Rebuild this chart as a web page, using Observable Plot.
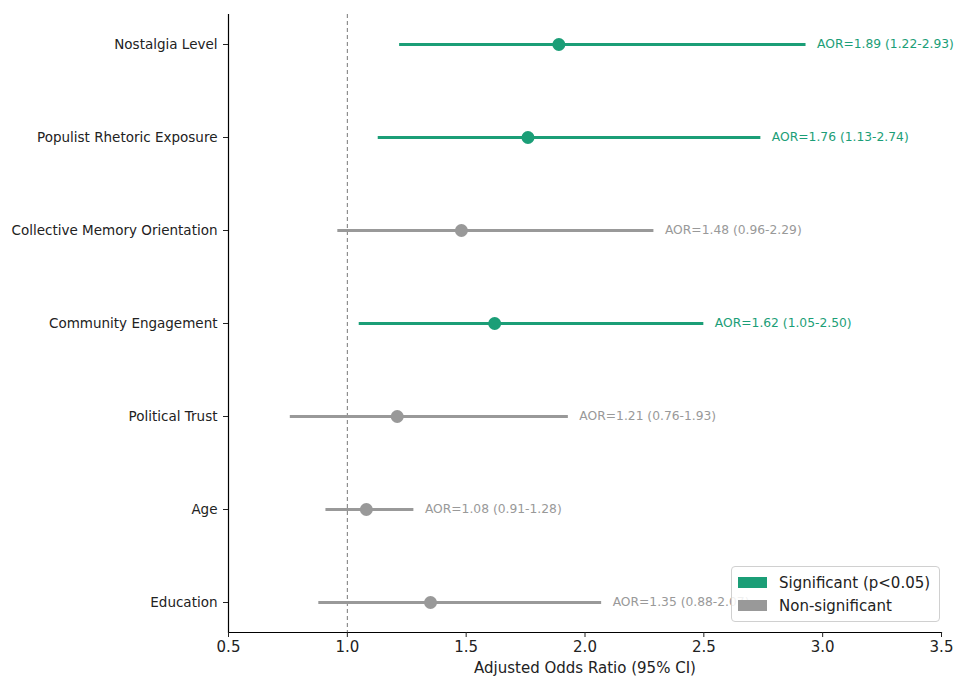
<!DOCTYPE html>
<html><head><meta charset="utf-8">
<script src="https://cdn.jsdelivr.net/npm/d3@7"></script>
<script src="https://cdn.jsdelivr.net/npm/@observablehq/plot@0.6"></script>
<style>
body{margin:0;background:#fff;font-family:"DejaVu Sans",sans-serif;}
#wrap{position:relative;width:954px;height:682px;}
#legend{position:absolute;left:731px;top:566px;width:209px;height:56px;border:1px solid #d0d0d0;border-radius:4px;background:rgba(255,255,255,0.85);font-size:15px;color:#222;box-sizing:border-box;padding:4px 0 0 6px;}
.li{display:flex;align-items:center;height:23px;}
.sw{width:29px;height:11px;margin-right:12px;}
</style></head>
<body><div id="wrap"><div id="chart"></div>
<div id="legend"><div class="li"><span class="sw" style="background:#1b9e77"></span>Significant (p&lt;0.05)</div><div class="li"><span class="sw" style="background:#999999"></span>Non-significant</div></div></div>
<script>
const variables = ["Nostalgia Level","Populist Rhetoric Exposure","Collective Memory Orientation","Community Engagement","Political Trust","Age","Education"];
const aor = [1.89,1.76,1.48,1.62,1.21,1.08,1.35];
const lower = [1.22,1.13,0.96,1.05,0.76,0.91,0.88];
const upper = [2.93,2.74,2.29,2.50,1.93,1.28,2.07];
const significant = [true,true,false,true,false,false,false];
const xTicks = [0.5,1.0,1.5,2.0,2.5,3.0,3.5];

const rows = variables.map((v,i)=>({v, aor:aor[i], lo:lower[i], hi:upper[i], sig:significant[i],
  label:`AOR=${aor[i].toFixed(2)} (${lower[i].toFixed(2)}-${upper[i].toFixed(2)})`}));
const col = d => d.sig ? "#1b9e77" : "#999999";

const chart = Plot.plot({
  width:954, height:682,
  marginLeft:228, marginRight:13, marginTop:14, marginBottom:50,
  style:{fontFamily:"DejaVu Sans, sans-serif", fontSize:"13px", color:"#222"},
  x:{domain:[0.5,3.5], ticks:xTicks, tickFormat:d3.format(".1f"), label:null},
  y:{type:"point", domain:variables, padding:0.3, label:null},
  marks:[
    Plot.ruleX([1.0],{stroke:"#777",strokeDasharray:"4,3",strokeWidth:1}),
    Plot.ruleY(rows,{y:"v",x1:"lo",x2:"hi",stroke:col,strokeWidth:3}),
    Plot.dot(rows,{y:"v",x:"aor",fill:col,r:6.5}),
    Plot.text(rows,{y:"v",x:"hi",text:"label",fill:col,dx:11,textAnchor:"start",fontSize:12.3}),
    Plot.ruleX([0.5],{stroke:"#000",strokeWidth:1.2}),
    Plot.frame({anchor:"bottom",stroke:"#000",strokeWidth:1.2}),
    Plot.axisX({ticks:xTicks,tickFormat:d3.format(".1f"),tickSize:5,tickPadding:4,label:"Adjusted Odds Ratio (95% CI)",labelAnchor:"center",labelArrow:"none",labelOffset:40,fontSize:15}),
    Plot.axisY({tickSize:5,fontSize:13.5,tickPadding:6,label:null})
  ]
});
document.getElementById("chart").appendChild(chart);
</script></body></html>
